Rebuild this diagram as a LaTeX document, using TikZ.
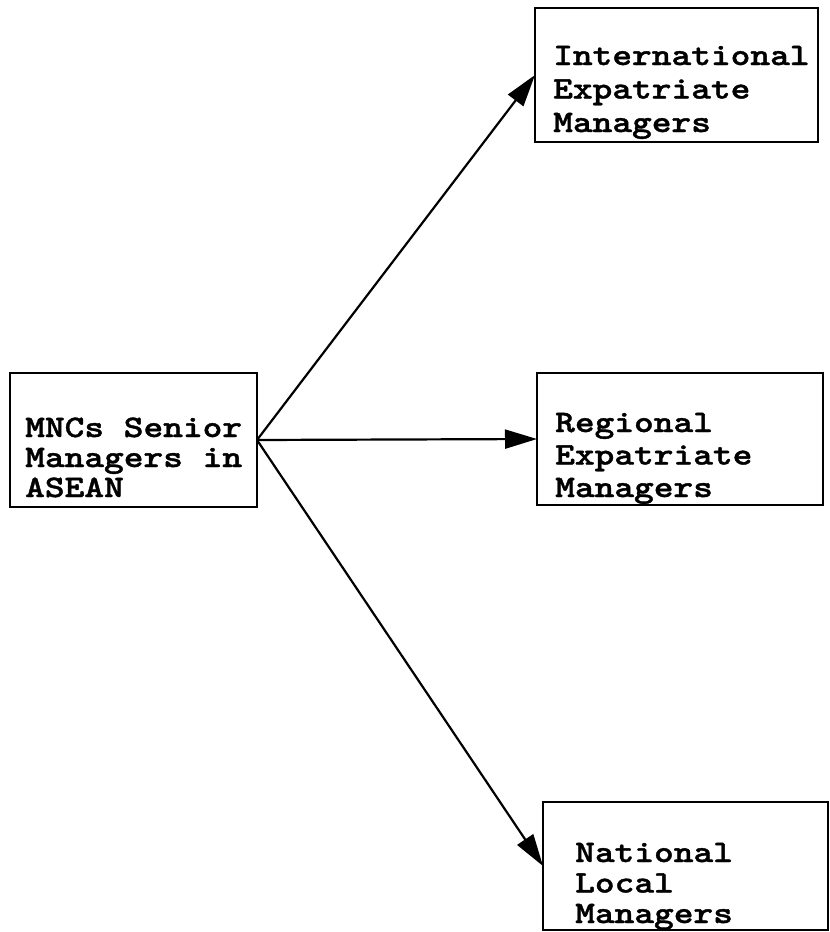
\documentclass[tikz,border=0pt]{standalone}
\usepackage{fontspec}
% Courier-like slab typewriter face, widened to a 19.7pt pitch
\newfontfamily\typerfont{lmmonolt10-bold.otf}[FakeStretch=1.2,FakeBold=1.2]
\usetikzlibrary{arrows.meta}
\begin{document}
\begin{tikzpicture}[x=1pt,y=-1pt,
  box/.style={draw, line width=2.4pt, inner sep=0pt, outer sep=0pt},
  boxtext/.style={anchor=base west, inner sep=0pt, align=left},
  link/.style={line width=2.2pt, -{Triangle[length=32pt,width=19pt]}}]
  \useasboundingbox (0,0) rectangle (830,932);
  % frames
  \node[box, minimum width=283pt, minimum height=134pt] (intl) at (676.5,75) {};
  \node[box, minimum width=247pt, minimum height=134pt] (mnc)  at (133.5,440) {};
  \node[box, minimum width=286pt, minimum height=132pt] (reg)  at (680,439) {};
  \node[box, minimum width=285pt, minimum height=128pt] (nat)  at (685.5,866) {};
  % captions (anchored at the baseline of their last line)
  \node[boxtext, font=\typerfont\fontsize{31.3}{33.5}\selectfont] (intlt) at (553,132) {International\\Expatriate\\Managers};
  \node[boxtext, font=\typerfont\fontsize{31.3}{30}\selectfont] (mnct) at (25,497) {MNCs Senior\\Managers in\\ASEAN};
  \node[boxtext, font=\typerfont\fontsize{31.3}{32.5}\selectfont] (regt) at (555,497) {Regional\\Expatriate\\Managers};
  \node[boxtext, font=\typerfont\fontsize{31.3}{30.5}\selectfont] (natt) at (575,923) {National\\Local\\Managers};
  % connectors
  \draw[link] (mnc.east) -- (intl.west);
  \draw[link] (mnc.east) -- (reg.west);
  \draw[link] (mnc.east) -- (nat.west);
\end{tikzpicture}
\end{document}
